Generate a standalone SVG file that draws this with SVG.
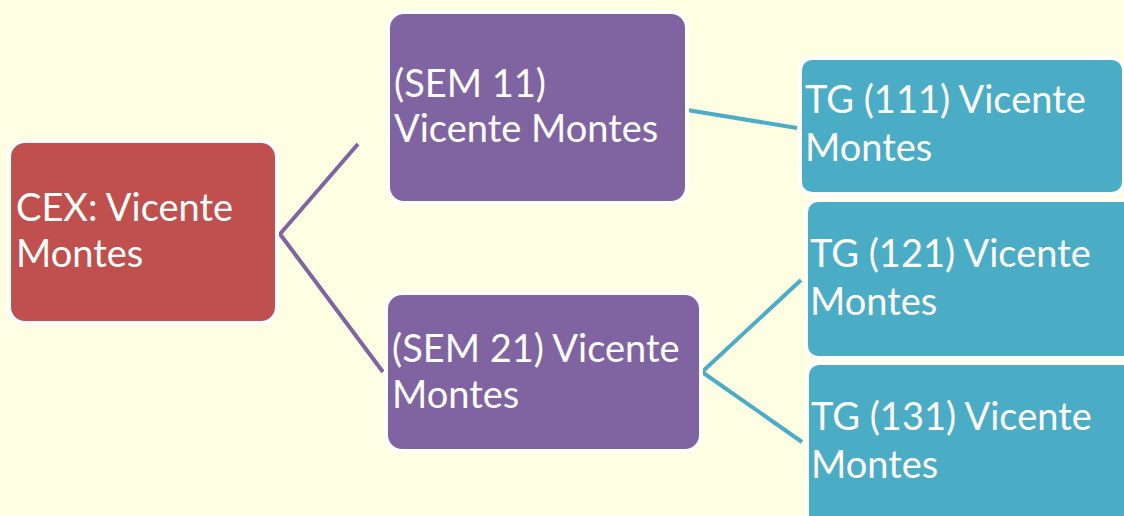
<svg xmlns="http://www.w3.org/2000/svg" width="1124" height="516" viewBox="0 0 1124 516">
<style>
.box{stroke:#ffffff;stroke-width:4}
.red{fill:#C0504D}
.pur{fill:#8064A2}
.teal{fill:#4BACC6}
.t{font-family:Lato,"Open Sans",sans-serif;font-size:38px;fill:#ffffff}
.cp{fill:none;stroke:#8064A2;stroke-width:4}
.ct{fill:none;stroke:#4BACC6;stroke-width:4}
</style>
<rect width="1124" height="516" fill="#FEFEE2"/>
<g id="connectors">
<polyline class="cp" points="358,144 280,234 383,372"/>
<line class="ct" x1="687" y1="110" x2="797" y2="128"/>
<polyline class="ct" points="801,280 702,372 802,442"/>
</g>
<g id="cex">
<rect class="box red" x="9" y="141" width="268" height="182" rx="16"/>
<text class="t" x="16" y="221">CEX: Vicente</text>
<text class="t" x="16" y="267">Montes</text>
</g>
<g id="sem11">
<rect class="box pur" x="388" y="12" width="299" height="191" rx="16"/>
<text class="t" x="394" y="97">(SEM 11)</text>
<text class="t" x="394" y="142">Vicente Montes</text>
</g>
<g id="sem21">
<rect class="box pur" x="386" y="293" width="315" height="158" rx="16"/>
<text class="t" x="392" y="362">(SEM 21) Vicente</text>
<text class="t" x="392" y="408">Montes</text>
</g>
<g id="tg111">
<rect class="box teal" x="800" y="58" width="324" height="136" rx="12"/>
<text class="t" x="805" y="113">TG (111) Vicente</text>
<text class="t" x="805" y="161">Montes</text>
</g>
<g id="tg121">
<rect class="box teal" x="806" y="200" width="330" height="158" rx="12"/>
<text class="t" x="810" y="267">TG (121) Vicente</text>
<text class="t" x="810" y="315">Montes</text>
</g>
<g id="tg131">
<rect class="box teal" x="807" y="363" width="330" height="170" rx="12"/>
<text class="t" x="811" y="430">TG (131) Vicente</text>
<text class="t" x="811" y="478">Montes</text>
</g>
</svg>
